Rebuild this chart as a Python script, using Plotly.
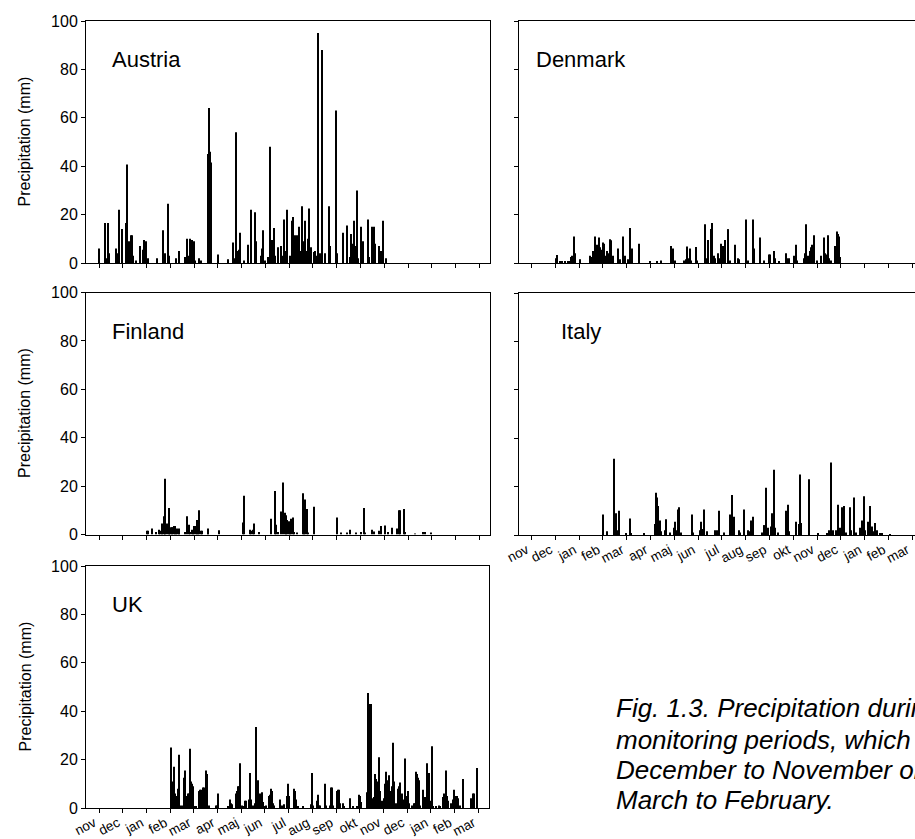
import plotly.graph_objects as go

W, H = 915, 839
DAYS_PER_MONTH = 30.44

month_labels = ["nov", "dec", "jan", "feb", "mar", "apr", "maj", "jun", "jul",
                "aug", "sep", "okt", "nov", "dec", "jan", "feb", "mar"]

# ---- Austria: day index from start of axis (1 Nov) and daily precipitation (mm)
austria_day = [0, 7, 8, 9, 12, 13, 22, 24, 25, 26, 30, 34, 36, 38, 41, 42, 44, 47, 52, 56,
               58, 60, 63, 74, 82, 85, 88, 90, 99, 102, 110, 113, 114, 116, 117, 119, 121, 123, 128, 130,
               139, 140, 141, 142, 143, 144, 152, 165, 171, 173, 176, 178, 179, 181, 186, 191, 194, 195, 200, 201,
               207, 209, 210, 212, 217, 219, 222, 224, 225, 229, 233, 235, 237, 239, 241, 244, 247, 248, 249, 251,
               253, 256, 257, 260, 261, 263, 264, 266, 268, 269, 271, 272, 275, 277, 278, 280, 281, 283, 285, 286,
               289, 295, 296, 303, 305, 312, 317, 321, 323, 325, 326, 328, 330, 332, 336, 338, 344, 346, 350, 352,
               354, 359, 360, 362, 364, 367]
austria_mm = [6, 15, 16.5, 2, 16.5, 4, 6, 4, 22, 9, 14, 16.5, 40.7, 9, 11.5, 11.5, 3, 1, 7, 5.5,
              9.5, 9, 2, 2, 13.5, 4, 24.5, 3, 2, 5, 2.5, 10, 3, 8, 10, 9.5, 9, 1, 2, 1,
              35, 45, 64, 46, 41.5, 6, 3.5, 1.5, 8.5, 2, 54, 5, 5.5, 12.5, 1, 7.5, 22, 5, 21, 9,
              3, 6, 13.5, 1, 2.5, 48, 9.5, 14.5, 3, 6.5, 7, 3, 18, 5, 22, 3, 17.5, 18.5, 19, 11.5,
              11.5, 15, 5, 23.5, 4, 9, 17.5, 5, 10, 22.5, 5.5, 6.5, 4.5, 5, 3, 95, 59, 4, 24.5, 88,
              4, 23.5, 7, 63, 4, 12.5, 15.5, 2.5, 12, 8, 17.5, 7, 30, 2, 15, 9, 18, 2.5, 15, 15,
              8, 7, 5, 5, 17.5, 2]

# ---- Denmark
denmark_day = [31, 32, 33, 36, 39, 43, 46, 48, 50, 52, 54, 55, 62, 75, 77, 79, 81, 82, 84, 86,
               88, 89, 91, 93, 94, 96, 98, 100, 102, 104, 110, 111, 113, 117, 119, 120, 124, 126, 128, 129,
               138, 151, 160, 166, 178, 180, 181, 183, 195, 197, 199, 201, 203, 204, 211, 212, 222, 224, 226, 229,
               231, 233, 235, 238, 240, 242, 243, 245, 247, 248, 251, 252, 254, 260, 264, 265, 274, 275, 277, 283,
               285, 292, 298, 304, 305, 310, 311, 316, 325, 327, 329, 336, 339, 340, 348, 350, 351, 353, 354, 356,
               358, 359, 361, 362, 365, 371, 374, 375, 377, 379, 381, 383, 388, 389, 391, 392, 394, 395]
denmark_mm = [2, 3.3, 1.5, 0.5, 0.8, 0.5, 0.8, 0.5, 2.5, 3, 11, 4, 1.5, 3, 2.5, 5, 11, 6, 7.5, 10.5,
              6.5, 5.5, 8.5, 8, 3, 5, 4, 9.8, 9.4, 3, 6, 2, 1.5, 11, 3, 2, 1.5, 14.5, 2, 6,
              8, 0.5, 0.5, 1, 7, 5, 6, 1, 1, 1.5, 6.8, 2, 6, 1, 6.6, 1, 16, 2, 9.5, 14,
              16.5, 3, 2, 4, 2, 8, 6, 7, 9.5, 2, 13.5, 14, 1, 7.5, 2, 1.5, 17.5, 18, 1, 18,
              6, 10.5, 1, 3.5, 3.5, 5, 2, 0.5, 4, 2, 2, 3, 7.5, 1, 2, 4, 16, 2, 3, 5,
              6.5, 7.5, 11.5, 2, 1, 3, 10.5, 4, 3.5, 11.5, 2, 1, 7, 3, 13, 12, 11, 2.5]

# ---- Finland
finland_day = [61, 63, 68, 73, 77, 78, 80, 81, 83, 84, 85, 87, 89, 90, 91, 93, 94, 96, 97, 99,
               100, 102, 103, 110, 113, 115, 117, 119, 120, 122, 124, 125, 127, 128, 130, 132, 139, 140, 154, 184,
               186, 193, 195, 197, 199, 205, 220, 225, 227, 229, 233, 235, 238, 239, 241, 243, 245, 246, 248, 250,
               253, 261, 262, 264, 266, 268, 275, 305, 310, 318, 322, 329, 335, 339, 341, 349, 352, 359, 361, 366,
               370, 375, 382, 384, 386, 391, 392, 405, 415, 417, 425]
finland_mm = [1.5, 1.5, 2.5, 1, 2, 1.5, 1, 4.5, 7.5, 23, 9.5, 4.5, 4.5, 11, 3, 3, 3, 3.5, 3.5, 1.5,
              2.5, 2.5, 1, 1, 7.5, 4, 1, 2, 1.5, 3.5, 3.5, 6, 4, 10, 1.5, 1.5, 1.5, 2.5, 1.8, 5,
              16, 2, 1.5, 2, 4.5, 1, 6.5, 18, 4, 1, 9.5, 21.5, 9, 8, 6, 5.5, 4, 6.5, 7, 1,
              0.5, 17, 1, 14.5, 10.5, 0.5, 11.5, 7, 0.5, 0.5, 2, 0.5, 1, 11, 0.5, 2, 1.2, 1.5, 3.5, 3.7,
              1, 2.8, 2.5, 10, 10, 10.5, 1, 0.3, 1, 1, 0.8]

# ---- Italy
italy_day = [92, 97, 105, 106, 108, 109, 112, 121, 126, 127, 144, 158, 159, 161, 162, 164, 165, 171, 172, 177,
             182, 184, 186, 188, 189, 191, 205, 206, 216, 217, 219, 221, 225, 235, 237, 240, 246, 254, 256, 257,
             259, 266, 267, 272, 277, 279, 281, 283, 295, 297, 298, 300, 302, 307, 308, 310, 311, 315, 325, 326,
             328, 329, 339, 342, 343, 345, 355, 367, 378, 381, 383, 386, 389, 390, 392, 394, 395, 397, 399, 400,
             403, 407, 409, 412, 413, 415, 420, 423, 426, 427, 431, 433, 435, 436, 437, 440, 442, 446, 448, 459]
italy_mm = [8.5, 1.5, 4.5, 31.5, 9, 2, 10, 0.5, 6.8, 0.5, 0.5, 4.5, 17.5, 15.5, 12, 6, 1.5, 2, 6.5, 1,
            3, 5.5, 2, 10.5, 11.5, 1, 8.5, 1, 2, 5.5, 2.5, 10.5, 1.5, 2, 2, 10, 1, 8.5, 16.5, 2.5,
            7.5, 2, 1, 10.5, 2, 1.5, 6, 7.5, 1, 4, 4, 19.5, 3, 3.5, 9, 27, 3, 1, 1, 10,
            12.5, 1.5, 5.5, 4.5, 25, 5, 23, 0.8, 0.8, 2, 30, 2, 1.5, 2, 12.5, 2, 3, 11.5, 11, 12,
            1, 11.5, 2, 7, 15.5, 1, 3, 6, 16, 2, 5.5, 12, 2.5, 3.5, 1.5, 5, 2, 0.8, 0.8, 0.4]

# ---- UK
uk_day = [92, 93, 95, 96, 97, 98, 100, 101, 102, 103, 105, 108, 109, 111, 112, 114, 115, 117, 118, 119,
          121, 122, 125, 129, 130, 131, 133, 134, 135, 137, 138, 139, 141, 150, 151, 153, 165, 168, 169, 171,
          176, 177, 179, 180, 181, 183, 185, 188, 189, 193, 194, 195, 198, 200, 201, 202, 204, 206, 207, 209,
          210, 213, 215, 218, 219, 221, 222, 223, 225, 233, 235, 237, 241, 243, 244, 250, 251, 253, 255, 262,
          272, 274, 275, 280, 281, 283, 284, 290, 292, 297, 298, 299, 301, 306, 307, 308, 310, 313, 315, 322,
          326, 331, 334, 335, 336, 344, 345, 346, 348, 349, 350, 351, 353, 354, 355, 357, 358, 359, 360, 361,
          363, 364, 366, 367, 369, 370, 371, 372, 374, 375, 376, 378, 379, 381, 384, 385, 386, 387, 389, 390,
          392, 393, 394, 395, 397, 398, 402, 404, 406, 407, 408, 410, 411, 412, 416, 417, 418, 419, 421, 422,
          424, 425, 427, 428, 429, 433, 436, 438, 442, 443, 444, 446, 447, 448, 452, 455, 456, 457, 458, 460,
          461, 463, 467, 478, 480, 482, 485]
uk_mm = [23, 25, 11, 17, 6, 3, 5, 7.5, 8, 22, 1, 1, 12.5, 15.5, 5, 6, 6, 24.5, 11, 10,
         9, 0.5, 0.5, 7, 7.5, 7.5, 3, 8.5, 8.5, 15.5, 14, 10, 1, 1, 1, 6, 0.5, 3.5, 2, 1.5,
         6, 7, 9, 9, 18.5, 1, 0.5, 3, 3, 3.5, 14.5, 3.5, 1, 2, 33.5, 18, 11.5, 5, 6, 6.5,
         2.5, 0.5, 1, 5, 5.5, 8, 7, 2, 1, 3.5, 1, 1.5, 5, 10, 5, 8, 7, 3.5, 0.5, 0.5,
         1.5, 14.5, 1, 3, 5.5, 1, 1, 10, 1, 1, 8.5, 8.5, 1, 7, 7.5, 7.5, 2, 2, 0.5, 4,
         0.5, 0.5, 5.5, 5, 2.5, 6.5, 6.5, 47.5, 43, 43, 3, 4, 4.5, 14, 12, 11, 3, 6, 21, 7,
         3, 1, 4, 10, 15, 11.5, 11, 13.5, 7, 6.5, 9, 27, 11, 2, 8, 9, 10.5, 10, 6, 2,
         3.5, 20.5, 1, 5, 7, 2, 1, 2, 2, 15, 14, 12.5, 11.5, 1, 7.5, 4.5, 4, 4.5, 18.5, 4.5,
         14.5, 3, 25.5, 8.5, 0.5, 0.5, 1, 0.5, 4.5, 6, 5.5, 15.5, 5, 3, 2, 3.5, 7.5, 5, 4.5, 5,
         4, 1, 12, 4, 6, 6, 16.5]

y_ticks = [0, 20, 40, 60, 80, 100]
y_title = "Precipitation (mm)"
caption_lines = ["Fig. 1.3. Precipitation during the",
                 "monitoring periods, which were",
                 "December to November or",
                 "March to February."]

FONT = "Arial, Liberation Sans, Helvetica, sans-serif"


def px_x(p):
    return p / W


def px_y(p):
    return 1 - p / H


# name, days, values, x pixel span, y pixel span, left column?, show x labels?, label x (month units)
panels = [
    ("Austria", austria_day, austria_mm, (86, 490), (21, 263), True, False, 0.45),
    ("Denmark", denmark_day, denmark_mm, (519, 915), (21, 263), False, False, 0.11),
    ("Finland", finland_day, finland_mm, (86, 490), (292.5, 534.5), True, False, 0.45),
    ("Italy", italy_day, italy_mm, (519, 915), (293, 535), False, True, 1.16),
    ("UK", uk_day, uk_mm, (86, 489), (566, 808), True, True, 0.45),
]

fig = go.Figure()
layout = dict(
    width=W, height=H,
    margin=dict(l=0, r=0, t=0, b=0, autoexpand=False),
    paper_bgcolor="white", plot_bgcolor="white",
    showlegend=False,
    font=dict(family=FONT, color="black"),
    annotations=[],
)

bar_w = 1.3 / DAYS_PER_MONTH

for i, (name, days, vals, xs, ys, left, xlab, lab_x) in enumerate(panels, start=1):
    sx = "" if i == 1 else str(i)
    xpos = [d / DAYS_PER_MONTH for d in days]
    fig.add_trace(go.Bar(
        x=xpos, y=vals, width=bar_w,
        marker=dict(color="black", line=dict(width=0)),
        xaxis="x" + sx, yaxis="y" + sx, hoverinfo="skip",
    ))
    if left:
        xr = [-0.55, 16.45]
    else:
        xr = [-0.53, 16.12]
    layout["xaxis" + sx] = dict(
        domain=[px_x(xs[0]), px_x(xs[1])],
        anchor="y" + sx,
        range=xr,
        tickmode="array",
        tickvals=list(range(len(month_labels))),
        ticktext=month_labels,
        showticklabels=xlab,
        tickangle=-28,
        tickfont=dict(size=13.5, family=FONT),
        ticklabelshift=-5, ticklabelstandoff=-3,
        ticks="outside", ticklen=4, tickcolor="black", tickwidth=1,
        showline=True, linecolor="black", linewidth=1,
        mirror=True, automargin=False, ticklabeloverflow="allow",
        showgrid=False, zeroline=False, fixedrange=True,
    )
    layout["yaxis" + sx] = dict(
        domain=[px_y(ys[1]), px_y(ys[0])],
        anchor="x" + sx,
        range=[0, 100],
        tickmode="array",
        tickvals=y_ticks,
        showticklabels=left,
        tickfont=dict(size=16, family=FONT),
        ticks="outside", ticklen=4, tickcolor="black", tickwidth=1,
        showline=True, linecolor="black", linewidth=1,
        mirror=left, automargin=False, ticklabeloverflow="allow",
        showgrid=False, zeroline=False, fixedrange=True,
    )
    layout["annotations"].append(dict(
        text=name, xref="x" + sx, yref="y" + sx, x=lab_x, y=84,
        xanchor="left", yanchor="middle", showarrow=False,
        font=dict(size=22, family=FONT, color="black"),
    ))
    if left:
        layout["annotations"].append(dict(
            text=y_title, xref="paper", yref="paper",
            x=px_x(24.5), y=px_y((ys[0] + ys[1]) / 2),
            xanchor="center", yanchor="middle", textangle=-90, showarrow=False,
            font=dict(size=16, family=FONT, color="black"),
        ))

caption_y = [708, 739.5, 770, 799.5]
for line, cy in zip(caption_lines, caption_y):
    layout["annotations"].append(dict(
        text="<i>" + line + "</i>", xref="paper", yref="paper",
        x=px_x(614), y=px_y(cy), xanchor="left", yanchor="middle",
        showarrow=False, font=dict(size=26, family=FONT, color="black"),
    ))

fig.update_layout(**layout)
fig.write_html("out.html")
